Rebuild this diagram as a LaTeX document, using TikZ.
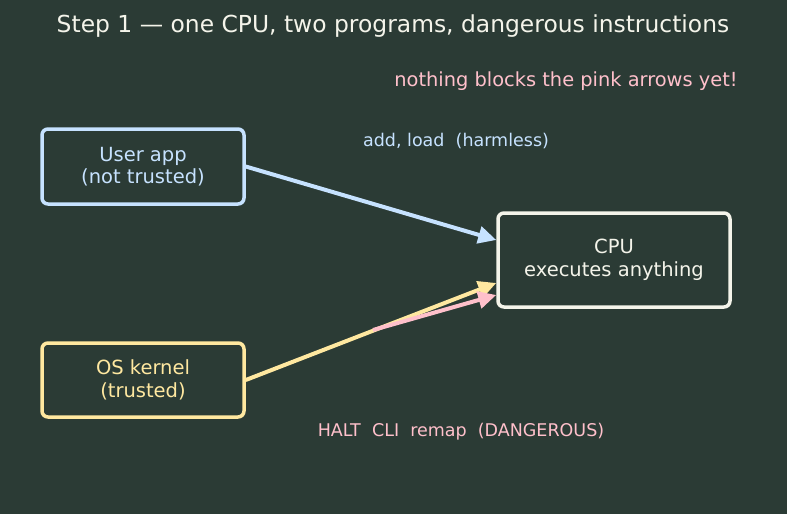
\documentclass[tikz,border=0pt]{standalone}
\usepackage{fontspec}
\setmainfont{DejaVu Sans}
\usetikzlibrary{arrows.meta}
\definecolor{bg}{HTML}{2B3B35}
\definecolor{ink}{HTML}{F4F4EA}
\definecolor{sky}{HTML}{C6E2FF}
\definecolor{sand}{HTML}{FFE8A0}
\definecolor{rose}{HTML}{FFC0CB}
\tikzset{
  prog/.style={draw=#1,text=#1,line width=3.5pt,rounded corners=6pt,fill=bg,
    align=center,inner sep=0pt,font=\fontsize{19.5}{22.5}\selectfont},
  note/.style={text=#1,font=\fontsize{17.5}{21}\selectfont},
  flow/.style={draw=#1,line width=4pt,-{Triangle[length=18pt,width=17pt]}}
}
\begin{document}
\begin{tikzpicture}[x=1pt,y=-1pt]
    \fill[bg] (0,0) rectangle (787,514);
    \useasboundingbox (0,0) rectangle (787,514);
    \node[text=ink,font=\fontsize{23.4}{27}\selectfont] (title) at (393,26) {Step 1 — one CPU, two programs, dangerous instructions};
    \node[note=rose,font=\fontsize{19.4}{23}\selectfont] (warn) at (566,81) {nothing blocks the pink arrows yet!};
    \node[prog=sky,minimum width=202pt,minimum height=75pt] (app) at (143,166.5) {User app\\(not trusted)};
    \node[prog=sand,minimum width=202pt,minimum height=74pt] (kern) at (143,380) {OS kernel\\(trusted)};
    \node[prog=ink,minimum width=232pt,minimum height=94pt] (cpu) at (614,260) {CPU\\executes anything};
    \node[note=sky] (safe) at (456,141) {add, load\ \ (harmless)};
    \node[note=rose] (bad) at (461,432) {HALT\ \ CLI\ \ remap\ \ (DANGEROUS)};
    \coordinate (hop) at (373,330);
    \draw[flow=sky] (app.east) -- (cpu.west |- 0,240);
    \draw[flow=sand] (kern.east) -- (cpu.west |- 0,283);
    \draw[flow=rose] (hop) -- (cpu.west |- 0,295);
\end{tikzpicture}
\end{document}
